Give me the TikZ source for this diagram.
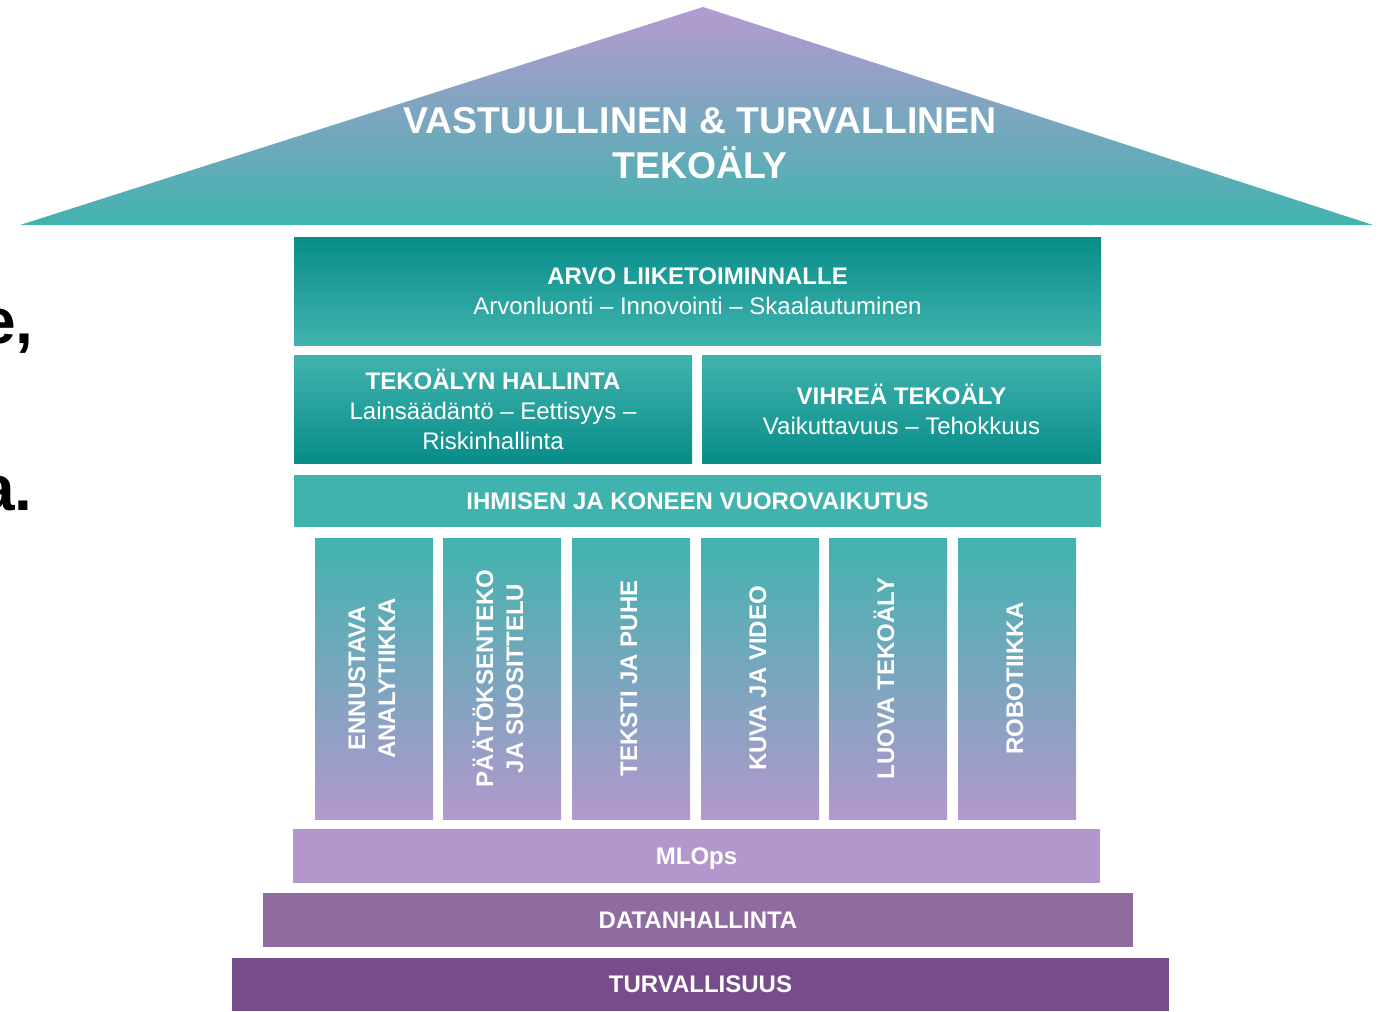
\documentclass[tikz,border=0pt]{standalone}
\usepackage{fontspec}
\setmainfont{Liberation Sans}
\definecolor{tealL}{HTML}{41B3AE}
\definecolor{tealD}{HTML}{088D89}
\definecolor{lilac}{HTML}{B398CE}
\definecolor{roofTop}{HTML}{B59AD0}
\definecolor{mlopsC}{HTML}{B296CC}
\definecolor{datanC}{HTML}{8F6BA0}
\definecolor{turvC}{HTML}{764C8A}
\newcommand{\coltext}[1]{\rotatebox{90}{\begin{tabular}{@{}c@{}}#1\end{tabular}}}
\begin{document}
\begin{tikzpicture}[x=0.75pt,y=-0.75pt,
  blk/.style 2 args={rectangle, inner sep=0pt, minimum width=#1*0.75pt, minimum height=#2*0.75pt,
     text=white, align=center, font=\fontsize{18}{22.5}\selectfont},
  colblk/.style={blk={118}{281}, top color=tealL, bottom color=lilac, font=\bfseries\fontsize{18}{22.5}\selectfont},
  flat/.style 2 args={blk={#1}{#2}, font=\bfseries\fontsize{18}{22.5}\selectfont},
  frag/.style={anchor=base east, font=\bfseries\fontsize{48}{56}\selectfont, text=black, inner sep=0pt}
]
\useasboundingbox (0,0) rectangle (1383,1011);
\clip (0,0) rectangle (1383,1011);

% left text fragments (cut off at the edge, as in the reference)
\node[frag] (fragA) at (34,343) {e,};
\node[frag] (fragB) at (33,510) {a.};

% roof
\shade[top color=roofTop, bottom color=tealL] (703,7) -- (20,225) -- (1373,225) -- cycle;
\node[text=white, align=center, inner sep=0pt, font=\bfseries\fontsize{28}{34}\selectfont] (roof) at (700,143)
  {VASTUULLINEN \& TURVALLINEN\\TEKOÄLY};

% upper blocks
\node[blk={807}{108}, top color=tealD, bottom color=tealL] (arvo) at (697.5,291)
  {\textbf{ARVO LIIKETOIMINNALLE}\\Arvonluonti – Innovointi – Skaalautuminen};
\node[blk={398}{108}, top color=tealL, bottom color=tealD] (hall) at (493,409)
  {\textbf{TEKOÄLYN HALLINTA}\\Lainsäädäntö – Eettisyys –\\Riskinhallinta};
\node[blk={399}{108}, top color=tealL, bottom color=tealD] (vihr) at (901.5,409)
  {\textbf{VIHREÄ TEKOÄLY}\\Vaikuttavuus – Tehokkuus};
\node[flat={807}{52}, fill=tealL] (ihm) at (697.5,501) {IHMISEN JA KONEEN VUOROVAIKUTUS};

% columns
\node[colblk] (c1) at (374,678.5) {\coltext{ENNUSTAVA\\ANALYTIIKKA}};
\node[colblk] (c2) at (502,678.5) {\coltext{PÄÄTÖKSENTEKO\\JA SUOSITTELU}};
\node[colblk] (c3) at (631,678.5) {\coltext{TEKSTI JA PUHE}};
\node[colblk] (c4) at (760,678.5) {\coltext{KUVA JA VIDEO}};
\node[colblk] (c5) at (888,678.5) {\coltext{LUOVA TEKOÄLY}};
\node[colblk] (c6) at (1017,678.5) {\coltext{ROBOTIIKKA}};

% foundation
\node[flat={807}{54}, fill=mlopsC, text depth=0pt] (mlops) at (696.5,856) {MLOps};
\node[flat={870}{54}, fill=datanC] (datan) at (698,920) {DATANHALLINTA};
\node[flat={937}{53}, fill=turvC] (turv) at (700.5,984.5) {TURVALLISUUS};
\end{tikzpicture}
\end{document}
